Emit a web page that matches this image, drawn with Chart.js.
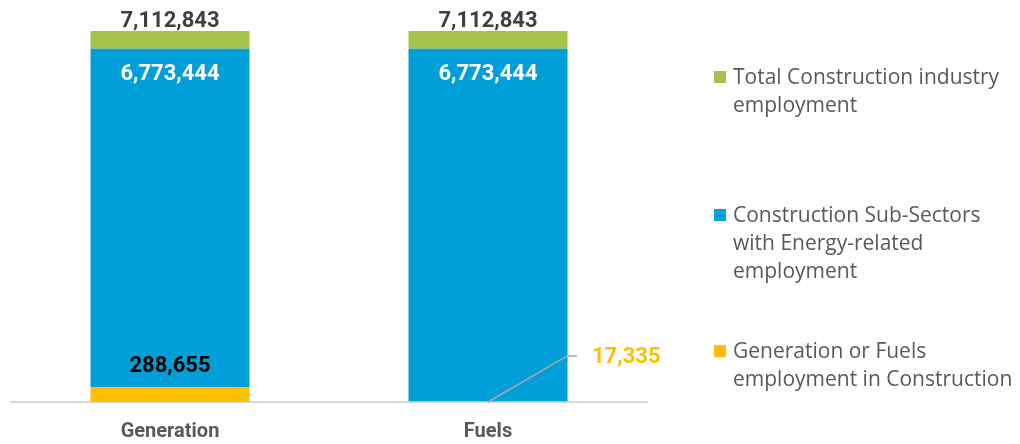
<!DOCTYPE html>
<html>
<head>
<meta charset="utf-8">
<script src="https://cdn.jsdelivr.net/npm/chart.js@4"></script>
<style>
  body { margin: 0; background: #fff; }
  #wrap { position: relative; width: 1020px; height: 444px; overflow: hidden; }
  canvas { display: block; }
  #legend { position: absolute; left: 714px; top: 0; font-family: "Open Sans", sans-serif; font-size: 21px; color: #595959; }
  .item { position: absolute; left: 0; width: 306px; line-height: 28px; }
  .item span.sw { position: absolute; left: 0; top: 9px; width: 12px; height: 12px; }
  .item div { margin-left: 19px; width: 287px; }
</style>
</head>
<body>
<div id="wrap">
  <canvas id="chart" width="1020" height="444"></canvas>
  <div id="legend"></div>
</div>
<script>
// categorias e valores (acumulados, como aparecem nos rótulos)
const categories = ["Generation", "Fuels"];
const genFuelsEmp = [288655, 17335];
const subSectorEmp = [6773444, 6773444];
const totalConstruction = [7112843, 7112843];

const seriesNames = [
  "Generation or Fuels employment in Construction",
  "Construction Sub-Sectors with Energy-related employment",
  "Total Construction industry employment"
];
const colors = ["#FFC000", "#009FDA", "#A5C249"];

// segmentos empilhados
const blueSeg = subSectorEmp.map((v, i) => v - genFuelsEmp[i]);
const greenSeg = totalConstruction.map((v, i) => v - subSectorEmp[i]);

const numFont = 'Roboto, "Liberation Sans", sans-serif';
const fmt = (n) => n.toLocaleString("en-US");

// rótulos de valores
const labelPlugin = {
  id: "valueLabels",
  afterDatasetsDraw(chart) {
    const ctx = chart.ctx;
    const yellow = chart.getDatasetMeta(0).data;
    const blue = chart.getDatasetMeta(1).data;
    const green = chart.getDatasetMeta(2).data;
    ctx.save();
    ctx.font = "bold 22px " + numFont;
    ctx.textAlign = "center";
    ctx.textBaseline = "middle";
    categories.forEach((c, i) => {
      ctx.fillStyle = "#404040";
      ctx.fillText(fmt(totalConstruction[i]), green[i].x, green[i].y - 10);
      ctx.fillStyle = "#ffffff";
      ctx.fillText(fmt(subSectorEmp[i]), blue[i].x, blue[i].y + 26);
    });
    // Generation: rótulo acima da barra amarela
    ctx.fillStyle = "#000000";
    ctx.fillText(fmt(genFuelsEmp[0]), yellow[0].x, yellow[0].y - 20);
    // Fuels: rótulo externo com linha guia
    const base = yellow[1].base;
    const x0 = yellow[1].x;
    ctx.strokeStyle = "#A6A6A6";
    ctx.lineWidth = 1.5;
    ctx.beginPath();
    ctx.moveTo(x0, base);
    ctx.lineTo(x0 + 79, base - 46);
    ctx.lineTo(x0 + 89, base - 46);
    ctx.stroke();
    ctx.fillStyle = "#FFC000";
    ctx.textAlign = "left";
    ctx.fillText(fmt(genFuelsEmp[1]), x0 + 104, base - 45);
    ctx.restore();
  }
};

const chart = new Chart(document.getElementById("chart"), {
  type: "bar",
  data: {
    labels: categories,
    datasets: [
      { label: seriesNames[0], data: genFuelsEmp, backgroundColor: colors[0] },
      { label: seriesNames[1], data: blueSeg, backgroundColor: colors[1] },
      { label: seriesNames[2], data: greenSeg, backgroundColor: colors[2] }
    ]
  },
  options: {
    responsive: false,
    animation: false,
    datasets: { bar: { categoryPercentage: 1, barPercentage: 0.5 } },
    layout: { padding: { top: 31, left: 11, right: 373, bottom: 0 } },
    plugins: { legend: { display: false }, tooltip: { enabled: false } },
    scales: {
      x: {
        stacked: true,
        grid: { display: false, drawTicks: false },
        border: { display: true, color: "#D9D9D9", width: 2 },
        ticks: { padding: 18, color: "#595959", font: { family: numFont, size: 20, weight: "bold" } },
        afterFit: (scale) => { scale.height = 42; }
      },
      y: { stacked: true, display: false, min: 0, max: totalConstruction[0] }
    }
  },
  plugins: [labelPlugin]
});

// legenda em HTML (ordem invertida, como no original)
const legendTops = [62, 200, 336];
const legend = document.getElementById("legend");
[2, 1, 0].forEach((d, k) => {
  const el = document.createElement("div");
  el.className = "item";
  el.style.top = legendTops[k] + "px";
  el.innerHTML = '<span class="sw" style="background:' + colors[d] + '"></span><div>' + seriesNames[d] + "</div>";
  legend.appendChild(el);
});
</script>
</body>
</html>
